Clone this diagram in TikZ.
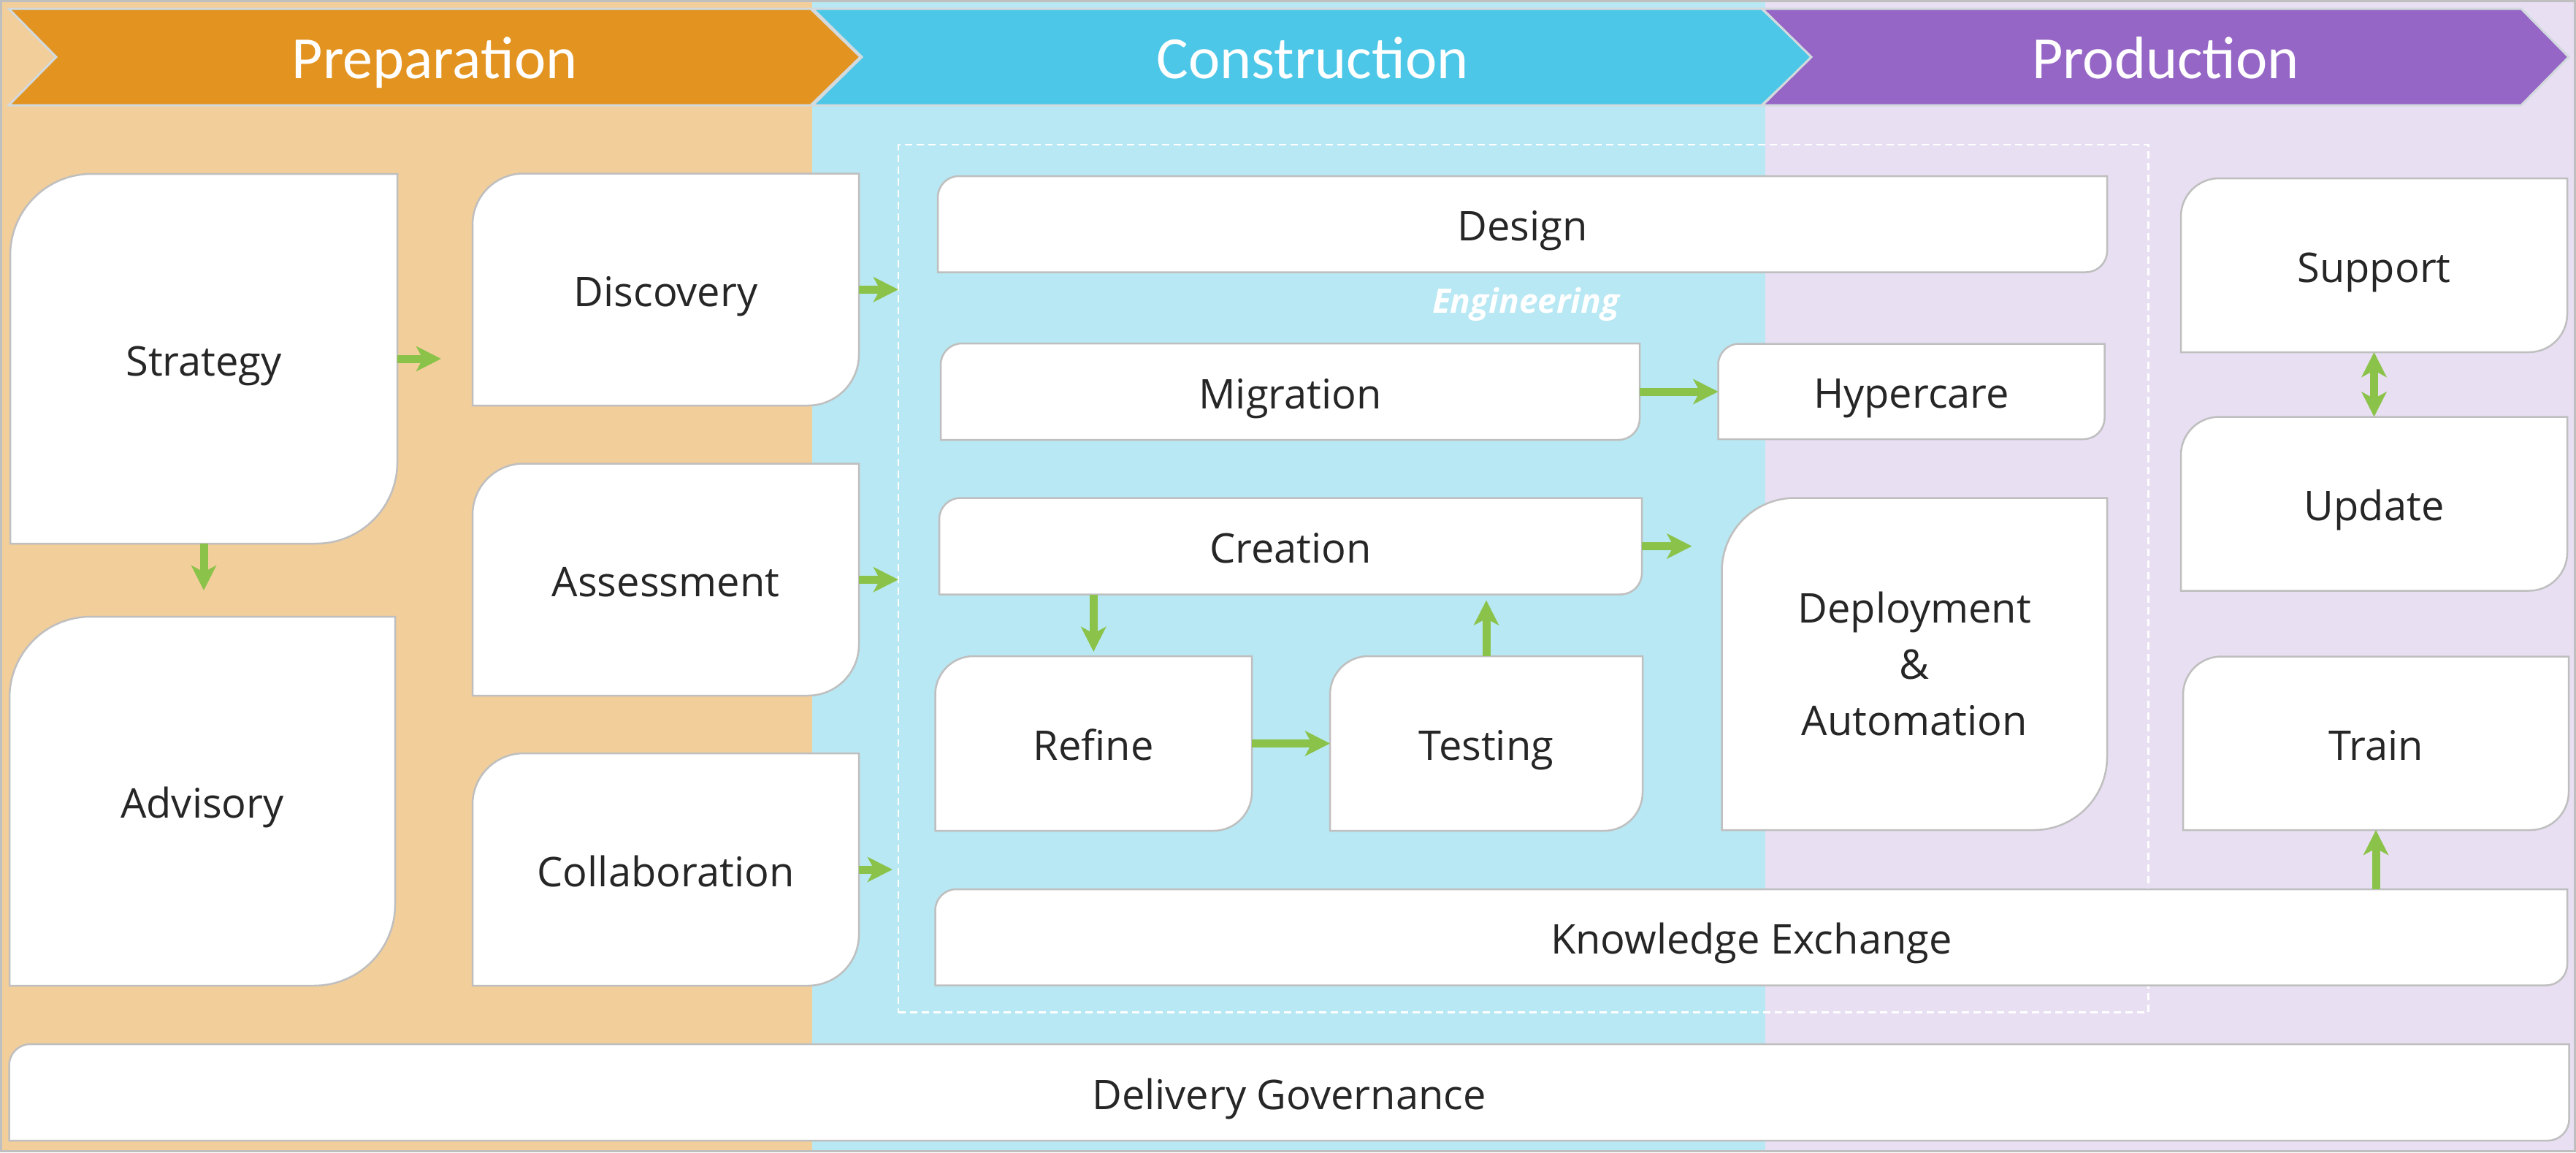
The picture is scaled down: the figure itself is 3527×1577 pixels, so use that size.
\documentclass[tikz,border=0pt]{standalone}
\usepackage{fontspec}
\setmainfont{Open Sans}
\newfontfamily\hdrfont{Carlito}
\usetikzlibrary{arrows.meta}
\definecolor{prepbg}{HTML}{F2CE9B}
\definecolor{consbg}{HTML}{B8E8F3}
\definecolor{prodbg}{HTML}{E8DFF3}
\definecolor{prepch}{HTML}{E3931F}
\definecolor{consch}{HTML}{4DC7E7}
\definecolor{prodch}{HTML}{9566C6}
\definecolor{arrgreen}{HTML}{8BC34A}
\definecolor{boxgray}{HTML}{BFBFBF}
\definecolor{txtdark}{HTML}{262626}
\definecolor{chline}{HTML}{D2DADE}
\tikzset{
  boxshape/.style={fill=white, draw=boxgray, line width=2.5pt},
  boxtext/.style={inner sep=0pt, outer sep=0pt, text=txtdark, font=\fontsize{56}{77}\selectfont, align=center},
  onelinetext/.style={text height=56pt, text depth=10pt},
  hdrtext/.style={text=white, font=\hdrfont\fontsize{82}{98}\selectfont, inner sep=0pt, anchor=base},
  chevron/.style={draw=chline, line width=3pt},
  arr/.style={draw=arrgreen, line width=11pt, -{Stealth[length=34pt,width=34pt,inset=9pt]}},
  darr/.style={draw=arrgreen, line width=11pt, {Stealth[length=34pt,width=34pt,inset=9pt]}-{Stealth[length=34pt,width=34pt,inset=9pt]}},
  engbox/.style={draw=white, line width=2.5pt, dash pattern=on 10pt off 6pt, inner sep=0pt, outer sep=0pt},
}
% #1 name, #2 x1, #3 y1, #4 x2, #5 y2, #6 extra style, #7 text
\newcommand{\dbox}[7]{%
  \pgfmathsetmacro{\rr}{0.22*min(#4-#2,#5-#3)}%
  \pgfmathsetmacro{\kk}{0.4477*\rr}%
  \pgfmathsetmacro{\ww}{#4-#2}%
  \pgfmathsetmacro{\hh}{#5-#3}%
  \path[boxshape] (#2,#5) -- (#2,#3+\rr) .. controls (#2,#3+\kk) and (#2+\kk,#3) .. (#2+\rr,#3)
     -- (#4,#3) -- (#4,#5-\rr) .. controls (#4,#5-\kk) and (#4-\kk,#5) .. (#4-\rr,#5) -- cycle;
  \node[boxtext, #6, minimum width=\ww pt, minimum height=\hh pt] (#1) at ({(#2+#4)/2},{(#3+#5)/2}) {#7};
}
\begin{document}
\begin{tikzpicture}[x=1pt,y=-1pt]
\useasboundingbox (0,0) rectangle (3527,1577);
% column backgrounds
\fill[prepbg] (0,0) rectangle (1112,1577);
\fill[consbg] (1112,0) rectangle (2417,1577);
\fill[prodbg] (2417,0) rectangle (3527,1577);
\draw[boxgray, line width=3pt] (1.5,1.5) rectangle (3525.5,1575.5);
% chevrons
\filldraw[chevron, fill=prepch] (12,12) -- (1110,12) -- (1178,78) -- (1110,144) -- (12,144) -- (77,78) -- cycle;
\filldraw[chevron, fill=consch] (1113,12) -- (2412,12) -- (2482,78) -- (2412,144) -- (1113,144) -- (1180,78) -- cycle;
\filldraw[chevron, fill=prodch] (2413,12) -- (3452,12) -- (3517,78) -- (3452,144) -- (2413,144) -- (2480,78) -- cycle;
\node[hdrtext] (hprep) at (595,107) {Preparation};
\node[hdrtext] (hcons) at (1797,107) {Construction};
\node[hdrtext] (hprod) at (2965,107) {Production};
% engineering dashed frame
\node[engbox, minimum width=1711.5pt, minimum height=1187.5pt] (eng) at (2085.75,791.75) {};
\node[text=white, font=\bfseries\itshape\fontsize{46}{56}\selectfont, inner sep=0pt, anchor=base] (englabel) at (2089,428) {Engineering};
% boxes
\dbox{strategy}{14}{238}{544}{744}{onelinetext}{Strategy}
\dbox{advisory}{13}{844}{541}{1349}{onelinetext}{Advisory}
\dbox{discovery}{647}{237.5}{1176}{555}{onelinetext}{Discovery}
\dbox{assessment}{647}{634.5}{1176}{952}{onelinetext}{Assessment}
\dbox{collab}{647}{1031}{1176}{1349}{onelinetext}{Collaboration}
\dbox{governance}{12.5}{1429}{3517.5}{1561}{onelinetext}{Delivery Governance}
\dbox{design}{1284}{241}{2885}{372.5}{onelinetext}{Design}
\dbox{migration}{1288}{470}{2245}{602}{onelinetext}{Migration}
\dbox{hypercare}{2352.5}{470.5}{2881.5}{601}{onelinetext}{Hypercare}
\dbox{creation}{1286}{681.5}{2248}{813.5}{onelinetext}{Creation}
\dbox{refine}{1280.5}{898}{1714}{1137}{onelinetext}{Refine}
\dbox{testing}{1821}{898}{2249}{1137}{onelinetext}{Testing}
\dbox{deploy}{2357.5}{681.5}{2885}{1136}{}{Deployment\\\&\\Automation}
\dbox{knowledge}{1280.5}{1217}{3515}{1348.5}{onelinetext}{Knowledge Exchange}
\dbox{support}{2986}{244}{3515}{482}{onelinetext}{Support}
\dbox{update}{2986}{570.5}{3515}{808.5}{onelinetext}{Update}
\dbox{train}{2989}{898.5}{3517}{1136}{onelinetext}{Train}
% arrows
\draw[arr, shorten >=43pt] (strategy.east) -- (strategy.east -| discovery.west);
\draw[arr, shorten >=36pt] (strategy.south) -- (strategy.south |- advisory.north);
\draw[arr] (discovery.east) -- (discovery.east -| eng.west);
\draw[arr] (assessment.east) -- (assessment.east -| eng.west);
\draw[arr, shorten >=8pt] (collab.east) -- (collab.east -| eng.west);
\draw[arr] (migration.east) -- (migration.east -| hypercare.west);
\draw[arr, shorten >=41pt] (creation.east) -- (creation.east -| deploy.west);
\draw[arr, shorten >=6pt] (creation.south -| refine.north) -- (refine.north);
\draw[arr] (refine.east) -- (refine.east -| testing.west);
\draw[arr, shorten >=8pt] (testing.north) -- (testing.north |- creation.south);
\draw[darr] (support.south) -- (support.south |- update.north);
\draw[arr] (train.south |- knowledge.north) -- (train.south);
\end{tikzpicture}
\end{document}
